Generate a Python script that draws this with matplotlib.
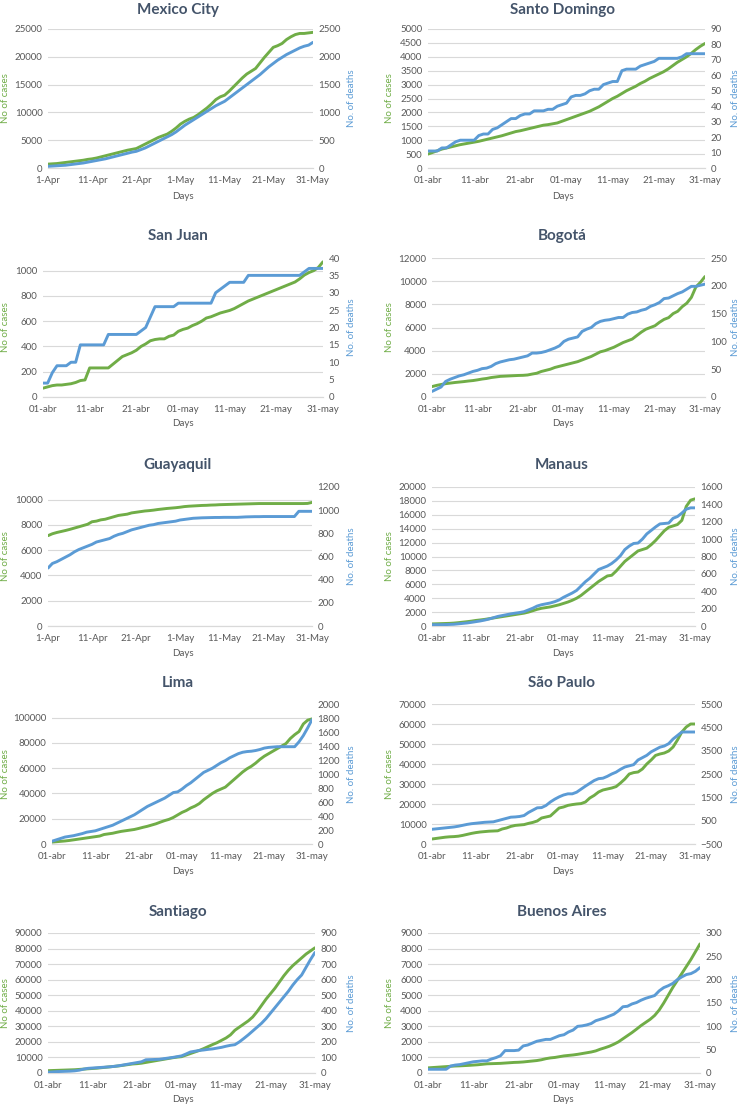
"""
plot.py
Daily COVID-19 cases and deaths, April-May 2020, ten Latin American cities.
Two lines per panel: cases on the left axis, deaths on the right axis.
Run: python plot.py
"""

import numpy as np
import matplotlib
matplotlib.use("Agg")
import matplotlib.pyplot as plt

# ─── 1. DATA ──────────────────────────────────────────────────────────────────
days = np.arange(61)  # 0 = 1 April, 60 = 31 May
tick_days = [0, 10, 20, 30, 40, 50, 60]
labels_en = ["1-Apr", "11-Apr", "21-Apr", "1-May", "11-May", "21-May", "31-May"]
labels_es = ["01-abr", "11-abr", "21-abr", "01-may", "11-may", "21-may", "31-may"]

mexico_cases = [700, 750, 800, 900, 1000, 1100, 1200, 1300, 1400, 1550, 1650,
                1800, 2000, 2200, 2400, 2600, 2800, 3000, 3200, 3350, 3500,
                3900, 4300, 4700, 5100, 5500, 5800, 6100, 6600, 7200, 7900,
                8400, 8800, 9100, 9600, 10200, 10800, 11500, 12300, 12800, 13100,
                13800, 14600, 15400, 16200, 16900, 17400, 17900, 18900, 19900, 20800,
                21700, 22000, 22400, 23100, 23600, 24000, 24200, 24200, 24300, 24400]
mexico_deaths = [30, 35, 40, 45, 50, 60, 70, 80, 90, 105, 120,
                 135, 150, 165, 185, 205, 225, 245, 265, 285, 300,
                 330, 360, 400, 440, 480, 520, 560, 600, 650, 710,
                 770, 820, 870, 920, 970, 1020, 1070, 1120, 1160, 1200,
                 1260, 1320, 1380, 1440, 1500, 1560, 1620, 1680, 1750, 1820,
                 1880, 1940, 1990, 2040, 2080, 2120, 2160, 2190, 2210, 2260]

santo_domingo_cases = [500, 560, 620, 680, 720, 760, 800, 840, 870, 900, 930,
                       960, 1000, 1040, 1080, 1120, 1160, 1210, 1260, 1310, 1340,
                       1380, 1420, 1460, 1500, 1540, 1560, 1590, 1620, 1680, 1740,
                       1800, 1860, 1920, 1980, 2040, 2120, 2200, 2300, 2400, 2500,
                       2580, 2680, 2780, 2860, 2940, 3040, 3120, 3220, 3300, 3380,
                       3460, 3560, 3680, 3800, 3900, 4000, 4120, 4260, 4380, 4480]
santo_domingo_deaths = [11, 11, 11, 13, 13, 15, 17, 18, 18, 18, 18,
                        21, 22, 22, 25, 26, 28, 30, 32, 32, 34,
                        35, 35, 37, 37, 37, 38, 38, 40, 41, 42,
                        46, 47, 47, 48, 50, 51, 51, 54, 55, 56,
                        56, 63, 64, 64, 64, 66, 67, 68, 69, 71,
                        71, 71, 71, 71, 72, 74, 74, 74, 74, 74]

san_juan_cases = [70, 80, 90, 95, 95, 100, 105, 115, 130, 135, 230,
                  230, 230, 230, 230, 260, 290, 320, 335, 350, 370,
                  400, 420, 445, 455, 460, 460, 480, 490, 520, 535,
                  545, 565, 580, 600, 625, 635, 650, 665, 675, 685,
                  700, 720, 740, 760, 775, 790, 805, 820, 835, 850,
                  865, 880, 895, 910, 935, 965, 985, 1000, 1025, 1070]
san_juan_deaths = [4, 4, 7, 9, 9, 9, 10, 10, 15, 15, 15,
                   15, 15, 15, 18, 18, 18, 18, 18, 18, 18,
                   19, 20, 23, 26, 26, 26, 26, 26, 27, 27,
                   27, 27, 27, 27, 27, 27, 30, 31, 32, 33,
                   33, 33, 33, 35, 35, 35, 35, 35, 35, 35,
                   35, 35, 35, 35, 35, 36, 37, 37, 37, 37]

bogota_cases = [900, 1000, 1080, 1150, 1200, 1250, 1290, 1330, 1380, 1420, 1480,
                1550, 1600, 1680, 1730, 1780, 1800, 1820, 1840, 1860, 1870,
                1900, 1980, 2050, 2200, 2300, 2400, 2550, 2650, 2750, 2850,
                2950, 3050, 3200, 3350, 3500, 3700, 3900, 4000, 4150, 4300,
                4500, 4700, 4850, 5000, 5300, 5600, 5850, 6000, 6150, 6450,
                6700, 6850, 7200, 7400, 7800, 8100, 8600, 9500, 9900, 10400]
bogota_deaths = [10, 14, 18, 28, 32, 35, 38, 40, 43, 46, 48,
                 51, 52, 55, 60, 63, 65, 67, 68, 70, 72,
                 74, 79, 79, 80, 82, 85, 88, 92, 100, 104,
                 106, 108, 118, 122, 125, 132, 136, 138, 139, 141,
                 143, 143, 149, 152, 153, 156, 158, 163, 166, 170,
                 177, 178, 182, 186, 189, 194, 199, 199, 201, 203]

guayaquil_cases = [7150, 7300, 7400, 7480, 7560, 7650, 7750, 7850, 7950, 8050, 8250,
                   8300, 8400, 8450, 8550, 8650, 8750, 8800, 8850, 8950, 9000,
                   9050, 9100, 9130, 9170, 9220, 9260, 9300, 9330, 9360, 9400,
                   9450, 9480, 9500, 9520, 9540, 9550, 9570, 9580, 9600, 9610,
                   9620, 9630, 9640, 9650, 9660, 9670, 9680, 9690, 9690, 9690,
                   9690, 9690, 9690, 9690, 9690, 9690, 9690, 9690, 9700, 9780]
guayaquil_deaths = [500, 540, 555, 575, 595, 615, 640, 660, 675, 690, 705,
                    725, 735, 745, 755, 775, 790, 800, 815, 830, 840,
                    850, 860, 870, 875, 885, 890, 895, 900, 905, 915,
                    920, 925, 930, 932, 934, 935, 936, 937, 937, 938,
                    938, 938, 938, 940, 942, 943, 944, 944, 945, 945,
                    945, 945, 945, 945, 945, 945, 990, 990, 990, 990]

manaus_cases = [300, 320, 340, 360, 380, 420, 480, 550, 620, 700, 800,
                870, 950, 1050, 1150, 1250, 1350, 1450, 1550, 1650, 1750,
                1850, 2000, 2200, 2400, 2550, 2650, 2750, 2900, 3050, 3250,
                3450, 3700, 4000, 4400, 4900, 5400, 5900, 6400, 6800, 7200,
                7300, 7900, 8600, 9300, 9800, 10300, 10800, 11000, 11200, 11700,
                12300, 13000, 13700, 14200, 14400, 14600, 15200, 17200, 18100, 18300]
manaus_deaths = [15, 15, 15, 16, 18, 20, 25, 30, 35, 42, 50,
                 58, 68, 80, 95, 110, 120, 130, 140, 148, 155,
                 165, 185, 205, 230, 245, 255, 265, 280, 300, 330,
                 355, 380, 410, 460, 510, 550, 600, 650, 670, 690,
                 720, 760, 810, 880, 920, 950, 955, 1000, 1060, 1100,
                 1140, 1175, 1180, 1185, 1240, 1260, 1300, 1345, 1360, 1360]

lima_cases = [1500, 1800, 2100, 2400, 2800, 3300, 3800, 4300, 4800, 5300, 5800,
              6300, 7500, 8000, 8500, 9300, 10000, 10500, 11000, 11500, 12300,
              13200, 14000, 15000, 16000, 17300, 18500, 19500, 21000, 23000, 25000,
              26500, 28500, 30000, 32000, 35000, 37500, 40000, 42000, 43500, 45000,
              48000, 51000, 54000, 57000, 59500, 61500, 64000, 67000, 69500, 71500,
              73500, 75500, 77500, 79500, 83500, 86500, 89000, 95000, 98000, 99000]
lima_deaths = [40, 60, 80, 100, 110, 120, 135, 150, 170, 180, 190,
               210, 230, 250, 270, 300, 330, 360, 390, 420, 460,
               500, 540, 570, 600, 630, 660, 700, 740, 750, 790,
               840, 880, 930, 980, 1030, 1060, 1090, 1130, 1170, 1200,
               1240, 1270, 1300, 1320, 1330, 1335, 1345, 1360, 1380, 1390,
               1395, 1400, 1400, 1400, 1400, 1400, 1470, 1560, 1670, 1790]

sao_paulo_cases = [2500, 2800, 3100, 3400, 3600, 3700, 3900, 4300, 4800, 5300, 5700,
                   6000, 6200, 6400, 6500, 6600, 7500, 8000, 8800, 9300, 9500,
                   9700, 10300, 10800, 11500, 13000, 13500, 14000, 16000, 18000, 18500,
                   19300, 19700, 20000, 20200, 21000, 23000, 24300, 26000, 27000, 27500,
                   28000, 28700, 30500, 32500, 35000, 35700, 36000, 37500, 40000, 42000,
                   44300, 45000, 45500, 46500, 48500, 52000, 56000, 58500, 60000, 60000]
sao_paulo_deaths = [130, 150, 170, 190, 210, 230, 260, 300, 340, 370, 390,
                    410, 430, 440, 450, 500, 550, 600, 650, 660, 680,
                    720, 850, 950, 1050, 1060, 1150, 1300, 1420, 1520, 1600,
                    1650, 1650, 1720, 1850, 1980, 2100, 2220, 2300, 2320, 2400,
                    2500, 2580, 2700, 2800, 2850, 2900, 3100, 3200, 3300, 3450,
                    3550, 3650, 3700, 3800, 4000, 4150, 4300, 4300, 4300, 4300]

santiago_cases = [1500, 1600, 1700, 1800, 1900, 2000, 2100, 2300, 2500, 2700, 2900,
                  3100, 3400, 3700, 4000, 4300, 4600, 5000, 5400, 5800, 6000,
                  6300, 6800, 7300, 7800, 8300, 8800, 9300, 9800, 10200, 10500,
                  11500, 12500, 13500, 14500, 15700, 17000, 18300, 19500, 21000, 22500,
                  24500, 27500, 29500, 31500, 33500, 36000, 39500, 43500, 47500, 51000,
                  54500, 58500, 62500, 66000, 69000, 71500, 74000, 76500, 78500, 80500]
santiago_deaths = [5, 7, 9, 10, 11, 12, 14, 18, 25, 30, 32,
                   34, 36, 38, 40, 43, 47, 52, 57, 62, 67,
                   72, 85, 86, 87, 88, 92, 96, 100, 105, 110,
                   122, 135, 140, 145, 148, 152, 155, 160, 165, 172,
                   178, 182, 200, 222, 245, 270, 295, 320, 350, 385,
                   420, 455, 490, 525, 565, 600, 630, 680, 730, 775]

buenos_aires_cases = [330, 350, 370, 390, 410, 430, 450, 460, 475, 490, 510,
                      530, 560, 590, 600, 610, 620, 640, 660, 680, 690,
                      710, 740, 770, 800, 850, 920, 970, 1000, 1050, 1100,
                      1130, 1160, 1200, 1250, 1300, 1350, 1420, 1530, 1620, 1720,
                      1850, 2000, 2200, 2400, 2600, 2820, 3050, 3250, 3450, 3700,
                      4050, 4500, 5000, 5500, 5950, 6400, 6850, 7300, 7800, 8300]
buenos_aires_deaths = [8, 8, 8, 8, 8, 15, 17, 18, 20, 22, 24,
                       25, 26, 26, 30, 33, 37, 48, 48, 48, 49,
                       58, 60, 64, 68, 70, 72, 72, 76, 80, 82,
                       88, 92, 100, 101, 103, 106, 112, 115, 118, 122,
                       126, 133, 142, 143, 148, 151, 156, 160, 163, 166,
                       176, 183, 187, 192, 200, 206, 211, 213, 218, 226]

# ─── 2. PANEL LAYOUT (pixels on a 740 x 1106 canvas) ──────────────────────────
# name, cases, deaths, x labels, (left, right, top, bottom),
# (cases max, cases step), (deaths min, deaths max, deaths step)
panels = [
    ("Mexico City", mexico_cases, mexico_deaths, labels_en,
     (48, 313, 29, 168), (25000, 5000), (0, 2500, 500)),
    ("Santo Domingo", santo_domingo_cases, santo_domingo_deaths, labels_es,
     (428, 705, 29, 168), (5000, 500), (0, 90, 10)),
    ("San Juan", san_juan_cases, san_juan_deaths, labels_es,
     (43, 323, 258, 397), (1100, 200), (0, 40, 5)),
    ("Bogotá", bogota_cases, bogota_deaths, labels_es,
     (432, 705, 258, 397), (12000, 2000), (0, 250, 50)),
    ("Guayaquil", guayaquil_cases, guayaquil_deaths, labels_en,
     (48, 312, 487, 626), (11000, 2000), (0, 1200, 200)),
    ("Manaus", manaus_cases, manaus_deaths, labels_es,
     (432, 695, 487, 626), (20000, 2000), (0, 1600, 200)),
    ("Lima", lima_cases, lima_deaths, labels_es,
     (52, 312, 705, 844), (110000, 20000), (0, 2000, 200)),
    ("São Paulo", sao_paulo_cases, sao_paulo_deaths, labels_es,
     (432, 695, 704, 844), (70000, 10000), (-500, 5500, 1000)),
    ("Santiago", santiago_cases, santiago_deaths, labels_es,
     (48, 315, 933, 1073), (90000, 10000), (0, 900, 100)),
    ("Buenos Aires", buenos_aires_cases, buenos_aires_deaths, labels_es,
     (428, 700, 933, 1073), (9000, 1000), (0, 300, 50)),
]
title_y = [10, 236, 465, 683, 912]
days_y = [196, 423, 653, 871, 1100]

# ─── 3. STYLE ─────────────────────────────────────────────────────────────────
W, H = 740, 1106
GREEN = "#70AD47"
BLUE = "#5B9BD5"
TITLE_C = "#44546A"
TICK_C = "#595959"
GRID_C = "#D9D9D9"
plt.rcParams["font.family"] = ["Lato", "DejaVu Sans"]

fig = plt.figure(figsize=(W / 100, H / 100), dpi=100, facecolor="white")


def fx(px):
    return px / W


def fy(py):
    return 1 - py / H


for i, (name, cases, deaths, xlabels, box, cfg_c, cfg_d) in enumerate(panels):
    left, right, top, bottom = box
    row, col = divmod(i, 2)
    ax = fig.add_axes([fx(left), fy(bottom), fx(right - left), (bottom - top) / H])
    ax2 = ax.twinx()

    ax.plot(days, cases, color=GREEN, lw=2.1, solid_capstyle="round", zorder=3)
    ax2.plot(days, deaths, color=BLUE, lw=2.1, solid_capstyle="round", zorder=3)

    ax.set_xlim(0, 60)
    ax.set_ylim(0, cfg_c[0])
    ax.set_yticks(np.arange(0, cfg_c[0] + 1, cfg_c[1]))
    ax2.set_ylim(cfg_d[0], cfg_d[1])
    ax2.set_yticks(np.arange(cfg_d[0], cfg_d[1] + 1, cfg_d[2]))
    ax.set_xticks(tick_days)
    ax.set_xticklabels(xlabels)

    ax.grid(axis="y", color=GRID_C, lw=0.8)
    ax.set_axisbelow(True)
    for a in (ax, ax2):
        for s in ("top", "left", "right"):
            a.spines[s].set_visible(False)
        a.spines["bottom"].set_color(GRID_C)
        a.spines["bottom"].set_linewidth(0.8)
        a.tick_params(length=0, labelsize=7, colors=TICK_C, pad=4)
        a.patch.set_visible(False)
    ax.tick_params(axis="x", pad=6)

    cx = 178 if col == 0 else 562
    fig.text(fx(cx), fy(title_y[row]), name, ha="center", va="center",
             fontsize=11, fontweight="bold", color=TITLE_C)
    fig.text(fx(183 if col == 0 else 563), fy(days_y[row]), "Days",
             ha="center", va="center", fontsize=7, color=TICK_C)
    ymid = fy((top + bottom) / 2)
    fig.text(fx(6 if col == 0 else 390), ymid, "No of cases", rotation=90,
             ha="center", va="center", fontsize=7, color=GREEN)
    fig.text(fx(351 if col == 0 else 735), ymid, "No. of deaths", rotation=90,
             ha="center", va="center", fontsize=7, color=BLUE)

plt.savefig("out.png", dpi=100, facecolor="white")
plt.close()
